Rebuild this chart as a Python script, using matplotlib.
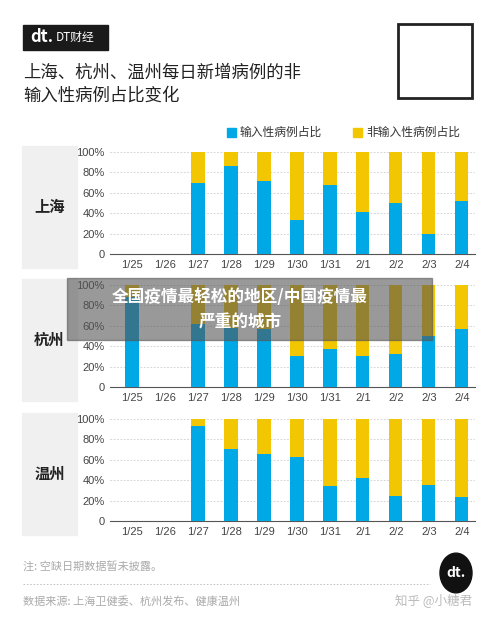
import matplotlib
matplotlib.use("Agg")
import matplotlib.pyplot as plt
from matplotlib.patches import Rectangle
import numpy as np

plt.rcParams['font.family'] = ['Noto Sans CJK SC', 'DejaVu Sans']

dates = ["1/25", "1/26", "1/27", "1/28", "1/29", "1/30", "1/31", "2/1", "2/2", "2/3", "2/4"]
cities = ["上海", "杭州", "温州"]
imported_sh = [np.nan, np.nan, 70, 86, 72, 33, 68, 41, 50, 20, 52]
imported_hz = [88, np.nan, 62, 58, 57, 30, 37, 30, 32, 50, 57]
imported_wz = [np.nan, np.nan, 93, 71, 66, 63, 34, 42, 25, 35, 24]
series = [imported_sh, imported_hz, imported_wz]
yticks = [0, 20, 40, 60, 80, 100]
ytick_labels = ["0", "20%", "40%", "60%", "80%", "100%"]

BLUE = "#00A9E6"
YELLOW = "#F2C600"
W, H = 500, 620
fig = plt.figure(figsize=(5, 6.2), dpi=100)
fig.patch.set_facecolor("white")

def fx(px): return px / W
def fy(py): return 1 - py / H

# header
fig.patches.append(Rectangle((fx(23), fy(50)), fx(85), 25 / H, transform=fig.transFigure, color="#1a1a1a"))
fig.text(fx(30), fy(37.5), "dt.", color="white", fontsize=12, fontweight="bold", va="center")
fig.text(fx(56), fy(37.5), "DT财经", color="white", fontsize=8.5, va="center")
fig.text(fx(23), fy(73), "上海、杭州、温州每日新增病例的非", fontsize=12.5, va="center", color="#222")
fig.text(fx(23), fy(96), "输入性病例占比变化", fontsize=12.5, va="center", color="#222")
fig.patches.append(Rectangle((fx(398), fy(98)), fx(74), 74 / H, transform=fig.transFigure,
                             facecolor="white", edgecolor="#222", lw=2))

# legend
fig.patches.append(Rectangle((fx(227), fy(137)), fx(9), 9 / H, transform=fig.transFigure, color=BLUE))
fig.text(fx(240), fy(132), "输入性病例占比", fontsize=8.5, va="center", color="#333")
fig.patches.append(Rectangle((fx(353), fy(137)), fx(9), 9 / H, transform=fig.transFigure, color=YELLOW))
fig.text(fx(366), fy(132), "非输入性病例占比", fontsize=8.5, va="center", color="#333")

tops = [152, 285, 419]
x = np.arange(len(dates))
for city, vals, top in zip(cities, series, tops):
    bottom = top + 102
    fig.patches.append(Rectangle((fx(22), fy(bottom + 14)), fx(55), (bottom + 14 - top + 6) / H,
                                 transform=fig.transFigure, color="#f0f0f0", zorder=0))
    fig.text(fx(49.5), fy((top + bottom) / 2 + 4), city, fontsize=11, fontweight="bold",
             ha="center", va="center", color="#222")
    ax = fig.add_axes([fx(110), fy(bottom), fx(365), (bottom - top) / H])
    ax.set_facecolor("none")
    v = np.array(vals, dtype=float)
    ax.bar(x, v, width=0.4, color=BLUE, zorder=3)
    ax.bar(x, np.where(np.isnan(v), np.nan, 100 - v), bottom=v, width=0.4, color=YELLOW, zorder=3)
    ax.set_ylim(0, 100)
    ax.set_xlim(-0.67, 10.4)
    ax.set_yticks(yticks)
    ax.set_yticklabels(ytick_labels, fontsize=8, color="#444", family=["Liberation Sans"])
    ax.set_xticks(x)
    ax.set_xticklabels(dates, fontsize=8, color="#444", family=["Liberation Sans"])
    for t in yticks[1:]:
        ax.axhline(t, color="#cccccc", lw=0.6, ls=(0, (2, 2)), zorder=1)
    for s in ["top", "right", "left"]:
        ax.spines[s].set_visible(False)
    ax.spines["bottom"].set_color("#555")
    ax.tick_params(length=0, pad=4)

# overlay banner
fig.patches.append(Rectangle((fx(67), fy(340)), fx(365), 62 / H, transform=fig.transFigure,
                             color="#555555", alpha=0.6, zorder=10))
fig.text(fx(240), fy(297), "全国疫情最轻松的地区/中国疫情最", fontsize=12, fontweight="bold",
         color="white", ha="center", va="center", zorder=11)
fig.text(fx(240), fy(322), "严重的城市", fontsize=12, fontweight="bold",
         color="white", ha="center", va="center", zorder=11)

# footer
fig.text(fx(23), fy(566), "注: 空缺日期数据暂未披露。", fontsize=8, color="#aaa", va="center")
fig.lines.append(plt.Line2D([fx(23), fx(430)], [fy(584), fy(584)], transform=fig.transFigure,
                            color="#bbb", lw=0.6, ls=(0, (2, 2))))
fig.text(fx(23), fy(601), "数据来源: 上海卫健委、杭州发布、健康温州", fontsize=8, color="#aaa", va="center")
fig.patches.append(plt.Circle((fx(456), fy(573)), 16 / W, transform=fig.transFigure, color="#111"))
fig.text(fx(456), fy(573), "dt.", color="white", fontsize=10, fontweight="bold", ha="center", va="center")
fig.text(fx(395), fy(601), "知乎 @小糖君", fontsize=9, color="#bbb", va="center")

fig.savefig("out.png", dpi=100)
